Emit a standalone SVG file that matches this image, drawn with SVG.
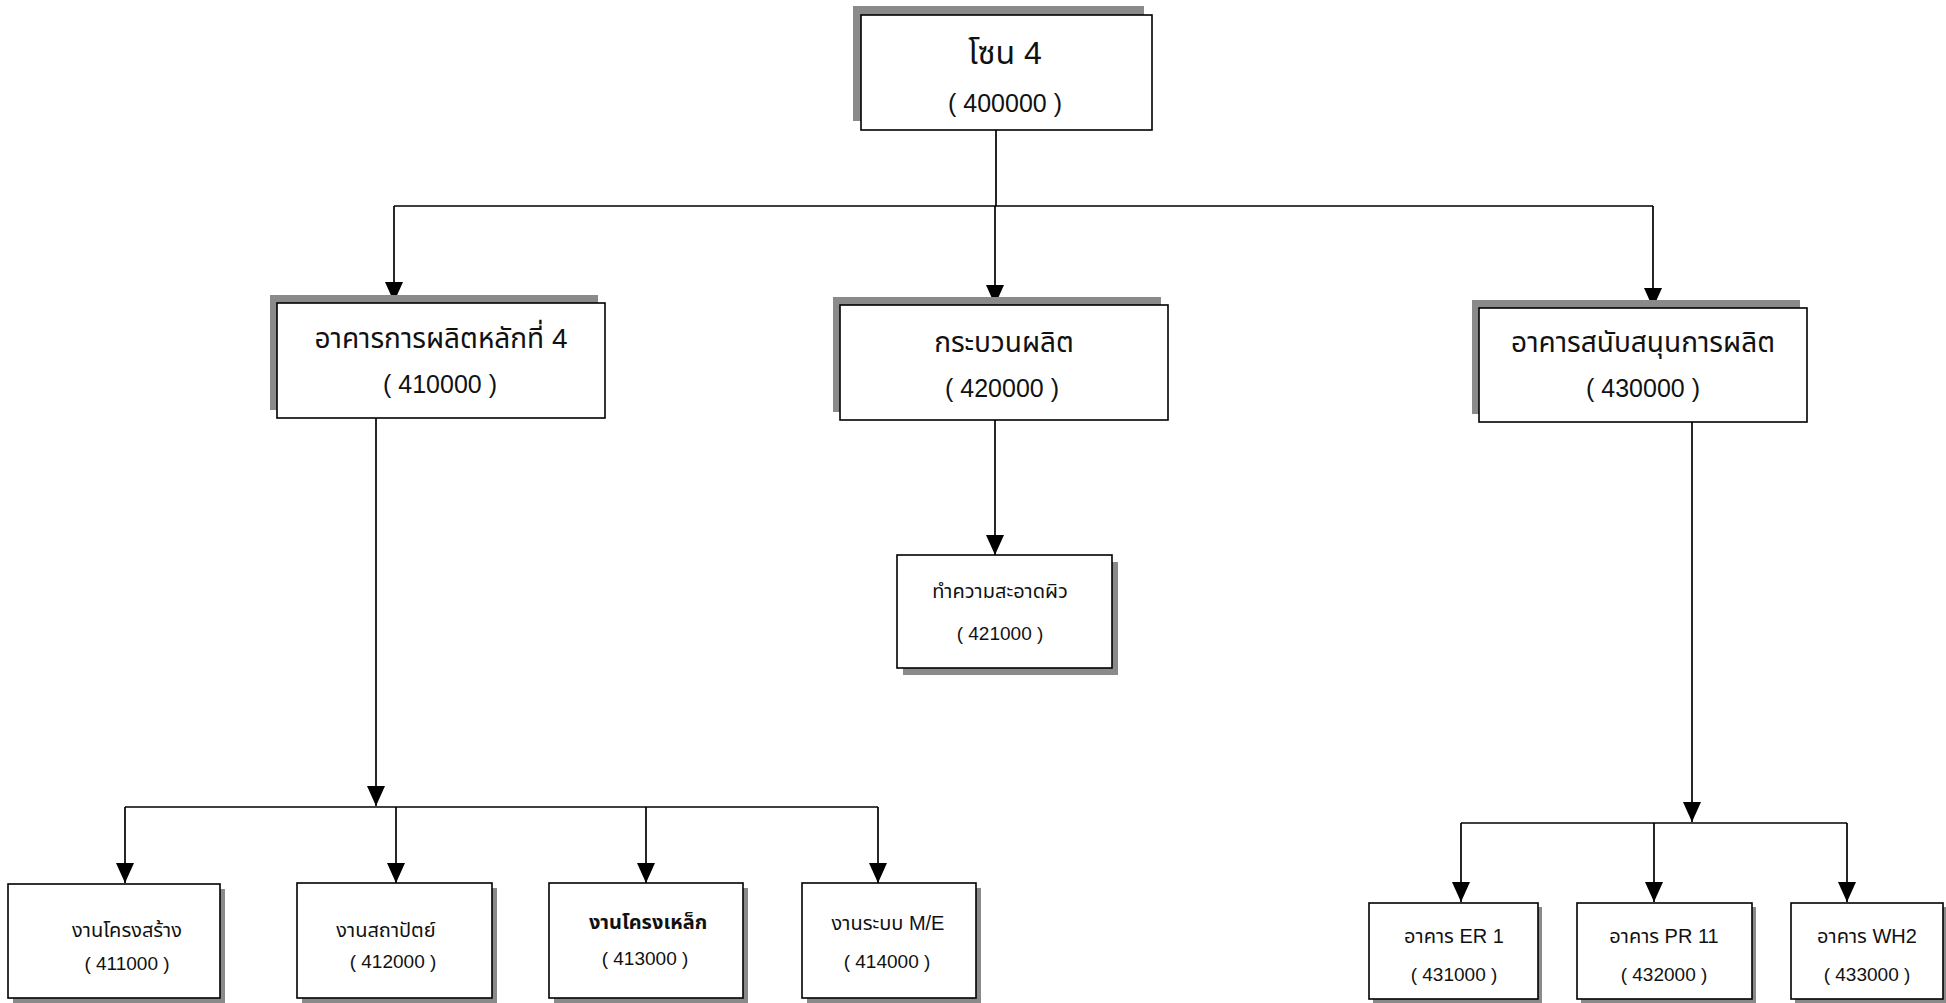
<svg xmlns="http://www.w3.org/2000/svg" width="1946" height="1003" viewBox="0 0 1946 1003">
  <defs>
    <marker id="arrow" markerUnits="userSpaceOnUse" markerWidth="22" markerHeight="20" refX="20" refY="9" orient="auto">
      <path d="M0,0 L20,9 L0,18 z" fill="#000"/>
    </marker>
  </defs>
  <style>
    .shadow { fill: #8a8a8a; }
    .box { fill: #fff; stroke: #000; stroke-width: 1.6; }
    .wire { fill: none; stroke: #000; stroke-width: 1.7; }
    .arrowed { marker-end: url(#arrow); }
    text { font-family: "Liberation Sans", "Noto Sans Thai", "Noto Sans Thai Looped", "Loma", "Garuda", sans-serif; text-anchor: middle; fill: #111; }
    .head { font-size: 28px; }
    .code { font-size: 25px; }
    .sub { font-size: 20px; }
    .subcode { font-size: 19px; }
  </style>

  <rect width="1946" height="1003" fill="#fff"/>

  <!-- connectors -->
  <g id="connectors">
    <path class="wire" d="M996,130 V206 M394,206 H1653"/>
    <path class="wire arrowed" d="M394,206 V302"/>
    <path class="wire arrowed" d="M995,206 V305"/>
    <path class="wire arrowed" d="M1653,206 V308"/>

    <path class="wire arrowed" d="M376,418 V806"/>
    <path class="wire" d="M125,807 H878"/>
    <path class="wire arrowed" d="M125,807 V883"/>
    <path class="wire arrowed" d="M396,807 V883"/>
    <path class="wire arrowed" d="M646,807 V883"/>
    <path class="wire arrowed" d="M878,807 V883"/>

    <path class="wire arrowed" d="M995,420 V555"/>

    <path class="wire arrowed" d="M1692,422 V822"/>
    <path class="wire" d="M1461,823 H1847"/>
    <path class="wire arrowed" d="M1461,823 V902"/>
    <path class="wire arrowed" d="M1654,823 V902"/>
    <path class="wire arrowed" d="M1847,823 V902"/>
  </g>

  <!-- zone root -->
  <g id="n400000">
    <rect class="shadow" x="853" y="6" width="291" height="115"/>
    <rect class="box" x="861" y="15" width="291" height="115"/>
    <text x="1005" y="64" font-size="32">โซน 4</text>
    <text class="code" x="1005" y="112">( 400000 )</text>
  </g>

  <g id="n410000">
    <rect class="shadow" x="270" y="295" width="328" height="115"/>
    <rect class="box" x="277" y="303" width="328" height="115"/>
    <text class="head" x="441" y="348">อาคารการผลิตหลักที่ 4</text>
    <text class="code" x="440" y="393">( 410000 )</text>
  </g>

  <g id="n420000">
    <rect class="shadow" x="833" y="297" width="328" height="115"/>
    <rect class="box" x="840" y="305" width="328" height="115"/>
    <text class="head" x="1004" y="352">กระบวนผลิต</text>
    <text class="code" x="1002" y="397">( 420000 )</text>
  </g>

  <g id="n430000">
    <rect class="shadow" x="1472" y="300" width="328" height="114"/>
    <rect class="box" x="1479" y="308" width="328" height="114"/>
    <text class="head" x="1643" y="352">อาคารสนับสนุนการผลิต</text>
    <text class="code" x="1643" y="397">( 430000 )</text>
  </g>

  <g id="n421000">
    <rect class="shadow" x="903" y="562" width="215" height="113"/>
    <rect class="box" x="897" y="555" width="215" height="113"/>
    <text class="sub" x="1000" y="598" font-size="22">ทำความสะอาดผิว</text>
    <text class="subcode" x="1000" y="640" font-size="17">( 421000 )</text>
  </g>

  <g id="n411000">
    <rect class="shadow" x="13" y="889" width="212" height="114"/>
    <rect class="box" x="8" y="884" width="212" height="114"/>
    <text class="sub" x="127" y="937" font-size="19">งานโครงสร้าง</text>
    <text class="subcode" x="127" y="970">( 411000 )</text>
  </g>

  <g id="n412000">
    <rect class="shadow" x="302" y="888" width="195" height="115"/>
    <rect class="box" x="297" y="883" width="195" height="115"/>
    <text class="sub" x="386" y="937" font-size="19">งานสถาปัตย์</text>
    <text class="subcode" x="393" y="968">( 412000 )</text>
  </g>

  <g id="n413000">
    <rect class="shadow" x="554" y="888" width="194" height="115"/>
    <rect class="box" x="549" y="883" width="194" height="115"/>
    <text class="sub" x="648" y="929" font-size="22" font-weight="bold">งานโครงเหล็ก</text>
    <text class="subcode" x="645" y="965">( 413000 )</text>
  </g>

  <g id="n414000">
    <rect class="shadow" x="807" y="888" width="174" height="115"/>
    <rect class="box" x="802" y="883" width="174" height="115"/>
    <text class="sub" x="888" y="930">งานระบบ M/E</text>
    <text class="subcode" x="887" y="968">( 414000 )</text>
  </g>

  <g id="n431000">
    <rect class="shadow" x="1373" y="907" width="169" height="96"/>
    <rect class="box" x="1369" y="903" width="169" height="96"/>
    <text class="sub" x="1454" y="943" font-size="22">อาคาร ER 1</text>
    <text class="subcode" x="1454" y="981">( 431000 )</text>
  </g>

  <g id="n432000">
    <rect class="shadow" x="1581" y="907" width="175" height="96"/>
    <rect class="box" x="1577" y="903" width="175" height="96"/>
    <text class="sub" x="1664" y="943" font-size="22">อาคาร PR 11</text>
    <text class="subcode" x="1664" y="981">( 432000 )</text>
  </g>

  <g id="n433000">
    <rect class="shadow" x="1795" y="907" width="151" height="96"/>
    <rect class="box" x="1791" y="903" width="152" height="96"/>
    <text class="sub" x="1867" y="943" font-size="22">อาคาร WH2</text>
    <text class="subcode" x="1867" y="981">( 433000 )</text>
  </g>
</svg>
